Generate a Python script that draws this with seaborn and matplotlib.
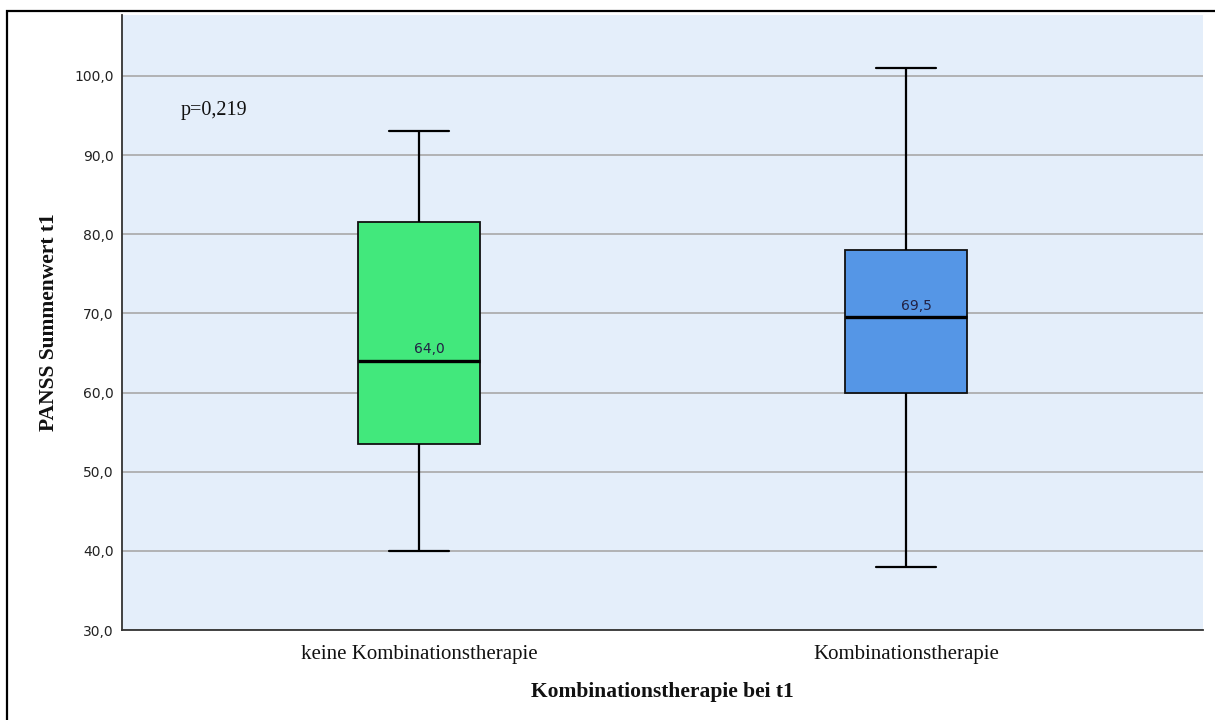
import matplotlib
matplotlib.use("Agg")
import matplotlib.pyplot as plt
import seaborn as sns
import pandas as pd
from matplotlib.patches import Rectangle

# Data: five-number summaries
categories = ["keine Kombinationstherapie", "Kombinationstherapie"]
keine_values = [40.0, 53.5, 64.0, 81.5, 93.0]
kombi_values = [38.0, 60.0, 69.5, 78.0, 101.0]
medians = [64.0, 69.5]
yticks = [30, 40, 50, 60, 70, 80, 90, 100]
p_text = "p=0,219"

df = pd.DataFrame({
    "group": [categories[0]] * len(keine_values) + [categories[1]] * len(kombi_values),
    "value": keine_values + kombi_values,
})

sns.set_theme(style="white")
plt.rcParams["font.family"] = ["DejaVu Sans"]

fig = plt.figure(figsize=(12.15, 7.2), dpi=100)
ax = fig.add_axes([122 / 1215, 1 - 630 / 720, (1203 - 122) / 1215, (630 - 15) / 720])
ax.set_facecolor("#e4eefa")

palette = {categories[0]: "#42e87c", categories[1]: "#5596e6"}
sns.boxplot(
    data=df, x="group", y="value", hue="group", palette=palette, order=categories,
    width=0.25, whis=1.5, showfliers=False, saturation=1, legend=False, ax=ax,
    linecolor="#111111", linewidth=1.3,
    medianprops={"linewidth": 2.4, "color": "#000000"},
    whiskerprops={"linewidth": 1.6, "color": "#000000"},
    capprops={"linewidth": 1.6, "color": "#000000"},
)

ax.set_xlim(-0.61, 1.61)
ax.set_ylim(30, 107.7)
ax.set_yticks(yticks)
ax.set_yticklabels([f"{t:.1f}".replace(".", ",") for t in yticks], fontsize=10, color="#222222")
ax.yaxis.grid(True, color="#a8a8a8", linewidth=1.2)
ax.set_axisbelow(True)
ax.tick_params(axis="both", length=0)
ax.tick_params(axis="y", pad=6)
ax.tick_params(axis="x", pad=11)

serif = ["Liberation Serif", "DejaVu Serif"]
for lbl in ax.get_xticklabels():
    lbl.set_fontfamily(serif)
    lbl.set_fontsize(15)
    lbl.set_color("#111111")

ax.set_xlabel("Kombinationstherapie bei t1", fontfamily=serif, fontsize=15.5,
              fontweight="bold", labelpad=13, color="#111111")
ax.set_ylabel("PANSS Summenwert t1", fontfamily=serif, fontsize=15.5,
              fontweight="bold", labelpad=11, color="#111111")

for s in ["top", "right"]:
    ax.spines[s].set_visible(False)
for s in ["left", "bottom"]:
    ax.spines[s].set_color("#333333")
    ax.spines[s].set_linewidth(1.3)

for i, m in enumerate(medians):
    ax.text(i + 0.022, m + 0.6, f"{m:.1f}".replace(".", ","), ha="center", va="bottom",
            fontsize=10, color="#222244")

ax.text(-0.49, 95.6, p_text, fontfamily=serif, fontsize=14.5, color="#111111",
        ha="left", va="center")

fig.patches.append(Rectangle((7 / 1215, -0.1), 1.5, (720 - 11) / 720 + 0.1,
                             transform=fig.transFigure, fill=False,
                             edgecolor="black", linewidth=1.6, clip_on=False))

fig.savefig("out.png", dpi=100, facecolor="white")
